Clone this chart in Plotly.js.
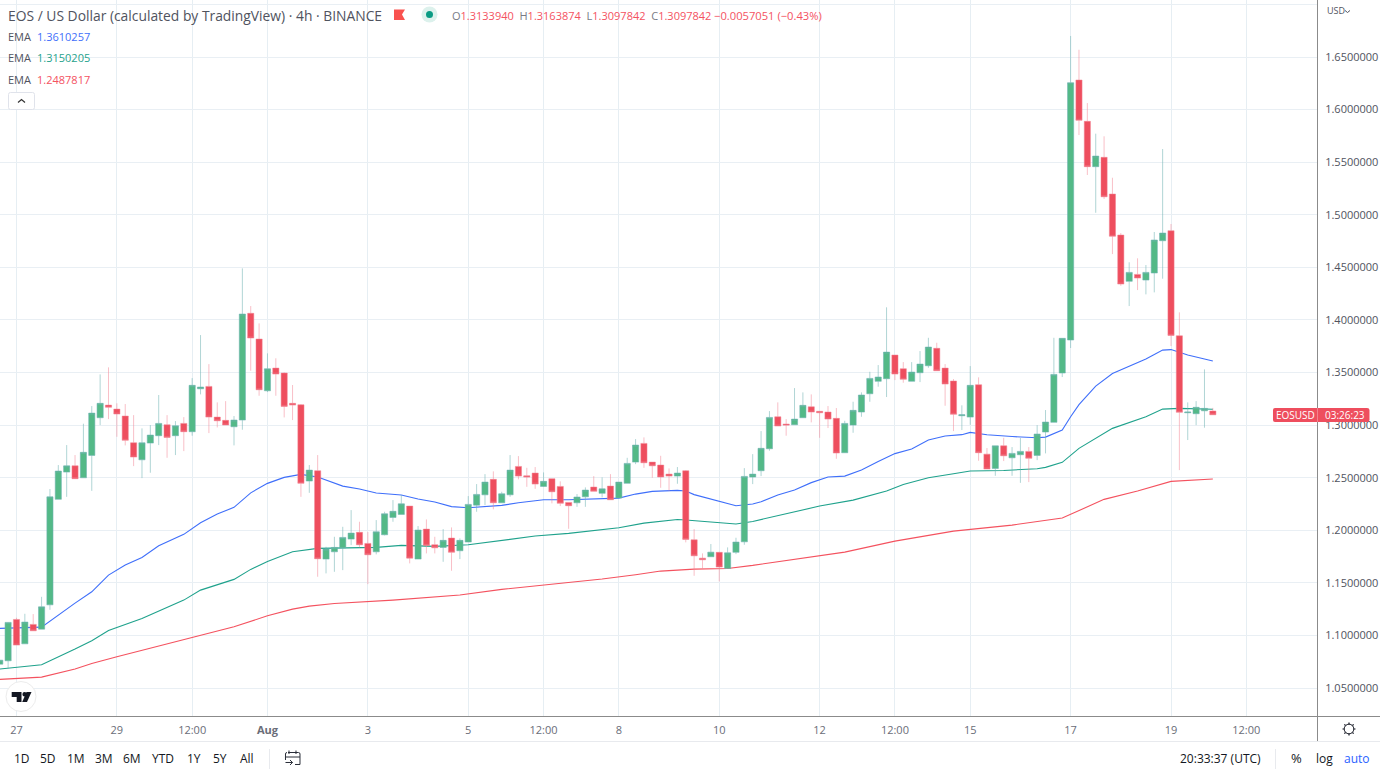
<!DOCTYPE html>
<html>
<head>
<meta charset="utf-8">
<script src="https://cdn.plot.ly/plotly-3.0.1.min.js"></script>
<style>
html, body { margin: 0; padding: 0; background: #fff; }
#chart { width: 1380px; height: 776px; }
</style>
</head>
<body>
<div id="chart"></div>
<script>
// ---------------- candles, 4h, first one is the cut off candle at the left edge ----------------//
var opens = [1.0727,1.0759,1.1152,1.0920,1.1105,1.1060,1.1291,1.2294,1.2553,1.2613,1.2499,1.2712,1.3070,1.3190,1.3152,1.3086,1.2832,1.2670,1.2829,1.2899,1.3003,1.2899,1.3016,1.2937,1.3345,1.3368,1.3076,1.3045,1.2984,1.3048,1.4063,1.3818,1.3326,1.3542,1.3495,1.3207,1.3193,1.2468,1.2566,1.1726,1.1795,1.1833,1.1916,1.1980,1.1875,1.1795,1.1957,1.2122,1.2151,1.2230,1.1726,1.2011,1.1862,1.1837,1.1926,1.1805,1.1888,1.2239,1.2337,1.2484,1.2261,1.2337,1.2607,1.2518,1.2544,1.2417,1.2490,1.2417,1.2265,1.2261,1.2318,1.2411,1.2351,1.2420,1.2306,1.2446,1.2648,1.2826,1.2648,1.2620,1.2534,1.2515,1.2566,1.1909,1.1735,1.1748,1.1790,1.1637,1.1790,1.1890,1.2506,1.2566,1.2775,1.3079,1.3010,1.3003,1.3070,1.3174,1.3131,1.3124,1.3064,1.2737,1.3000,1.3124,1.3298,1.3416,1.3441,1.3666,1.3536,1.3416,1.3498,1.3564,1.3730,1.3542,1.3419,1.3089,1.3076,1.3384,1.2724,1.2588,1.2803,1.2689,1.2718,1.2750,1.2712,1.2934,1.3026,1.3495,1.3809,1.6281,1.5888,1.5457,1.5546,1.5197,1.4807,1.4367,1.4433,1.4379,1.4446,1.4753,1.4848,1.3849,1.3117,1.3108,1.3136,1.3133940];
var highs = [1.0765,1.1127,1.1168,1.1206,1.1203,1.1367,1.2392,1.2620,1.2810,1.2715,1.3013,1.3181,1.3482,1.3549,1.3207,1.3200,1.3095,1.2969,1.3000,1.3286,1.3095,1.3038,1.3076,1.3447,1.3856,1.3580,1.3216,1.3228,1.3086,1.4490,1.4132,1.3967,1.3682,1.3635,1.3501,1.3381,1.3200,1.2620,1.2715,1.1843,1.1938,1.2033,1.2192,1.2081,1.1983,1.2097,1.2176,1.2287,1.2335,1.2230,1.2040,1.2103,1.1938,1.2011,1.2027,1.1923,1.2325,1.2439,1.2534,1.2560,1.2366,1.2715,1.2705,1.2594,1.2601,1.2550,1.2490,1.2465,1.2265,1.2344,1.2408,1.2515,1.2503,1.2534,1.2458,1.2689,1.2867,1.2883,1.2648,1.2708,1.2588,1.2601,1.2572,1.2011,1.1780,1.1869,1.1795,1.1837,1.1929,1.2591,1.2724,1.2943,1.3133,1.3216,1.3057,1.3352,1.3311,1.3292,1.3131,1.3181,1.3162,1.3041,1.3222,1.3311,1.3507,1.3571,1.4120,1.3666,1.3599,1.3599,1.3704,1.3830,1.3783,1.3580,1.3438,1.3188,1.3561,1.3454,1.2782,1.2803,1.2879,1.2791,1.2877,1.2791,1.3000,1.3143,1.3830,1.3825,1.6700,1.6569,1.6062,1.5771,1.5746,1.5352,1.4826,1.4548,1.4586,1.4522,1.4836,1.5625,1.4912,1.4072,1.3216,1.3228,1.3530,1.3163874];
var lows = [1.0727,1.0689,1.0908,1.0920,1.1044,1.1060,1.1244,1.2294,1.2318,1.2490,1.2499,1.2375,1.3000,1.3057,1.2889,1.2807,1.2610,1.2496,1.2547,1.2810,1.2689,1.2715,1.2753,1.2899,1.3292,1.2924,1.2978,1.3000,1.2807,1.2956,1.3517,1.3279,1.3314,1.3279,1.3073,1.3048,1.2318,1.2356,1.1558,1.1590,1.1605,1.1621,1.1859,1.1837,1.1488,1.1771,1.1951,1.2081,1.2151,1.1685,1.1726,1.1780,1.1780,1.1700,1.1615,1.1726,1.1888,1.2176,1.2239,1.2199,1.2261,1.2318,1.2484,1.2413,1.2394,1.2413,1.2256,1.2230,1.2014,1.2223,1.2223,1.2370,1.2313,1.2290,1.2306,1.2446,1.2629,1.2594,1.2499,1.2404,1.2375,1.2442,1.1885,1.1567,1.1637,1.1748,1.1514,1.1637,1.1773,1.1862,1.2439,1.2515,1.2756,1.2991,1.2899,1.3003,1.3070,1.3026,1.2879,1.2972,1.2680,1.2737,1.2927,1.3079,1.3222,1.3365,1.3267,1.3428,1.3403,1.3416,1.3409,1.3545,1.3517,1.3184,1.2943,1.2953,1.3003,1.2661,1.2582,1.2518,1.2658,1.2518,1.2451,1.2458,1.2667,1.2731,1.3026,1.3457,1.3733,1.5758,1.5378,1.5019,1.5150,1.4626,1.4325,1.4132,1.4284,1.4243,1.4262,1.4392,1.3752,1.2572,1.2858,1.3000,1.2975,1.3097842];
var closes = [1.0765,1.1124,1.0908,1.1127,1.1044,1.1272,1.2318,1.2563,1.2613,1.2490,1.2741,1.3114,1.3207,1.3169,1.3105,1.2855,1.2696,1.2832,1.2905,1.3016,1.2883,1.2994,1.2937,1.3378,1.3362,1.3076,1.3041,1.3000,1.3048,1.4056,1.3828,1.3336,1.3536,1.3485,1.3178,1.3190,1.2446,1.2572,1.1729,1.1821,1.1837,1.1932,1.1973,1.1862,1.1767,1.1986,1.2157,1.2180,1.2252,1.1735,1.2002,1.1856,1.1833,1.1904,1.1790,1.1904,1.2246,1.2341,1.2458,1.2261,1.2347,1.2572,1.2515,1.2506,1.2439,1.2465,1.2366,1.2256,1.2233,1.2316,1.2382,1.2370,1.2394,1.2290,1.2458,1.2636,1.2810,1.2642,1.2613,1.2506,1.2515,1.2544,1.1913,1.1757,1.1719,1.1792,1.1650,1.1786,1.1888,1.2512,1.2534,1.2779,1.3073,1.2991,1.3000,1.3057,1.3188,1.3124,1.3117,1.3057,1.2734,1.3016,1.3140,1.3286,1.3444,1.3457,1.3694,1.3485,1.3435,1.3504,1.3580,1.3742,1.3517,1.3390,1.3102,1.3098,1.3378,1.2737,1.2582,1.2803,1.2708,1.2731,1.2750,1.2684,1.2915,1.3029,1.3482,1.3825,1.6256,1.5898,1.5457,1.5558,1.5171,1.4795,1.4341,1.4452,1.4398,1.4452,1.4760,1.4826,1.3853,1.3121,1.3124,1.3169,1.3159,1.3097842];

// ---------------- moving averages, read at the bends, x is the candle number ----------------//
var emaBlueX = [-1,4,8,10,12,14,16,18,21,23,25,27,29,31,33,35,37,40,42,44,47,49,51,53,55,59,61,64,67,71,73,75,77,80,81,82,84,86,87,89,90,92,94,96,98,100,102,104,106,108,110,112,114,115,117,120,123,124,126,127,128,130,132,136,138,139,141,144];
var emaBlue = [1.1067,1.1079,1.1307,1.1415,1.1574,1.1669,1.1742,1.1852,1.1961,1.2071,1.2154,1.2218,1.2356,1.2446,1.2503,1.2531,1.2506,1.2420,1.2392,1.2354,1.2335,1.2297,1.2268,1.2225,1.2214,1.2237,1.2261,1.2290,1.2290,1.2300,1.2306,1.2344,1.2370,1.2379,1.2373,1.2339,1.2297,1.2258,1.2233,1.2249,1.2271,1.2335,1.2382,1.2453,1.2506,1.2515,1.2572,1.2653,1.2729,1.2772,1.2858,1.2896,1.2909,1.2931,1.2908,1.2891,1.2879,1.2886,1.2953,1.3079,1.3195,1.3371,1.3490,1.3628,1.3713,1.3718,1.3666,1.3610257];

var emaGreenX = [-1,4,8,10,12,16,21,23,27,29,31,34,37,41,44,47,51,55,59,63,67,71,73,76,80,81,85,87,89,93,97,101,105,107,110,113,115,119,123,124,126,128,131,132,136,138,140,144];
var emaGreen = [1.0680,1.0721,1.0870,1.0949,1.1046,1.1162,1.1336,1.1431,1.1533,1.1628,1.1704,1.1795,1.1828,1.1831,1.1837,1.1856,1.1847,1.1862,1.1900,1.1945,1.1970,1.2004,1.2024,1.2068,1.2103,1.2097,1.2068,1.2059,1.2084,1.2157,1.2230,1.2287,1.2373,1.2436,1.2499,1.2537,1.2563,1.2569,1.2585,1.2598,1.2646,1.2779,1.2921,1.2969,1.3079,1.3152,1.3159,1.3150205];

var emaRedX = [-1,4,8,10,13,16,21,27,31,34,36,39,46,54,59,64,71,75,78,82,86,89,93,100,106,113,120,126,131,135,139,144];
var emaRed = [1.0582,1.0604,1.0680,1.0734,1.0797,1.0858,1.0956,1.1082,1.1187,1.1250,1.1279,1.1303,1.1336,1.1384,1.1438,1.1479,1.1536,1.1577,1.1612,1.1631,1.1637,1.1666,1.1710,1.1792,1.1897,1.1992,1.2049,1.2116,1.2294,1.2373,1.2465,1.2487817];

// ---------------- axis labels ----------------//
var priceTicks = [1.05,1.10,1.15,1.20,1.25,1.30,1.35,1.40,1.45,1.50,1.55,1.60,1.65,1.70];
var timeTicks = [1,13,22,31,43,55,64,73,85,97,106,115,127,139,148];
var timeLabels = ['27','29','12:00','<b>Aug</b>','3','5','12:00','8','10','12','12:00','15','17','19','12:00'];
var rangeButtons = ['1D','5D','1M','3M','6M','YTD','1Y','5Y','All'];
var rangeButtonX = [22,48,76,104,132,163,194,220,247];
var emaValues = ['1.3610257','1.3150205','1.2487817'];

var W = 1380, H = 776;
var FONT = '"Open Sans", sans-serif';
var UP = '#53b987', DOWN = '#ee4e5e';
var BLUE = '#3f6ffa', TEAL = '#1fa28c', RED = '#f4525f';
var TEXT = '#50535e';

// pixel helpers, margins are 0 so paper coords are page coords
function px(x) { return x / W; }
function py(y) { return 1 - y / H; }
function toPaper(path) {
    return path.replace(/(-?[\d.]+) (-?[\d.]+)/g, function (m, x, y) {
        return px(+x).toFixed(5) + ' ' + py(+y).toFixed(5);
    });
}
function iconPath(path, fill, stroke, width) {
    return {
        type: 'path', xref: 'paper', yref: 'paper', path: toPaper(path),
        fillcolor: fill || 'rgba(0,0,0,0)',
        line: { color: stroke || 'rgba(0,0,0,0)', width: width || 0 }
    };
}
function hLine(y, x0, x1, color) {
    return { type: 'line', xref: 'paper', yref: 'paper', x0: px(x0), x1: px(x1), y0: py(y), y1: py(y), line: { color: color, width: 1 } };
}
function vLine(x, y0, y1, color) {
    return { type: 'line', xref: 'paper', yref: 'paper', x0: px(x), x1: px(x), y0: py(y0), y1: py(y1), line: { color: color, width: 1 } };
}
function circle(x, y, r, fill, stroke) {
    return {
        type: 'circle', xref: 'paper', yref: 'paper', x0: px(x - r), x1: px(x + r), y0: py(y + r), y1: py(y - r),
        fillcolor: fill, line: { color: stroke || 'rgba(0,0,0,0)', width: stroke ? 1 : 0 }
    };
}
function label(text, x, y, size, color, anchor) {
    return {
        text: text, xref: 'paper', yref: 'paper', x: px(x), y: py(y), showarrow: false,
        xanchor: anchor || 'left', yanchor: 'middle', borderpad: 0, borderwidth: 0,
        font: { family: FONT, size: size, color: color }
    };
}

// ---------------- traces ----------------//
var candleX = opens.map(function (v, i) { return i - 1; });

var traces = [
    { type: 'scatter', mode: 'lines', x: emaRedX, y: emaRed, line: { color: RED, width: 1.1 }, xaxis: 'x', yaxis: 'y' },
    { type: 'scatter', mode: 'lines', x: emaGreenX, y: emaGreen, line: { color: TEAL, width: 1.1 }, xaxis: 'x', yaxis: 'y' },
    { type: 'scatter', mode: 'lines', x: emaBlueX, y: emaBlue, line: { color: BLUE, width: 1.1 }, xaxis: 'x', yaxis: 'y' },
    {
        type: 'candlestick', x: candleX, open: opens, high: highs, low: lows, close: closes,
        xaxis: 'x2', yaxis: 'y2',
        increasing: { line: { color: 'rgba(112,178,178,0.55)', width: 1 }, fillcolor: UP },
        decreasing: { line: { color: 'rgba(244,130,146,0.5)', width: 1 }, fillcolor: DOWN }
    }
];

// ---------------- overlay text and icons ----------------//
var annotations = [
    label('EOS / US Dollar (calculated by TradingView) · 4h · BINANCE', 8, 15, 13.85, TEXT),
    label('<span style="color:#787b86">O</span>1.3133940 <span style="color:#787b86"> H</span>1.3163874 <span style="color:#787b86"> L</span>1.3097842 <span style="color:#787b86"> C</span>1.3097842', 452, 15, 11, RED),
    label('−0.0057051 (−0.43%)', 714, 15, 11.2, RED),
    label('EMA', 8, 36, 11, TEXT), label(emaValues[0], 37, 36, 11, BLUE),
    label('EMA', 8, 58, 11, TEXT), label(emaValues[1], 37, 58, 11, TEAL),
    label('EMA', 8, 80, 11, TEXT), label(emaValues[2], 37, 80, 11, RED),
    label('USD', 1327, 11, 9, TEXT),
    label('EOSUSD', 1295, 415, 10, '#ffffff', 'center'),
    label('03:26:23', 1345, 415, 10, '#ffffff', 'center'),
    label('20:33:37 (UTC)', 1261, 758, 12, '#131722', 'right'),
    label('%', 1296, 758, 13, '#131722', 'center'),
    label('log', 1324, 758, 12, '#131722', 'center'),
    label('auto', 1357, 758, 12, '#2962ff', 'center')
];
rangeButtons.forEach(function (name, i) {
    annotations.push(label(name, rangeButtonX[i], 758, 12, '#131722', 'center'));
});

var shapes = [
    vLine(1317.5, 0, 741, '#8b8b8b'),
    hLine(716.5, 0, 1380, '#8b8b8b'),
    hLine(741.5, 0, 1380, '#e8eaee'),
    vLine(269.5, 749, 769, '#e8eaee'),
    vLine(1275.5, 749, 769, '#e8eaee'),
    // flag and market status dot
    iconPath('M394 9.5 L405 9.5 L402 14.5 L405 20 L394 20 Z', '#f9524f'),
    circle(429.5, 14.5, 8, '#dcf1ec'),
    circle(429.5, 14.5, 3.5, '#0a9b83'),
    // collapse button
    iconPath('M10.5 92.5 L32.5 92.5 Q34.5 92.5 34.5 94.5 L34.5 107.5 Q34.5 109.5 32.5 109.5 L10.5 109.5 Q8.5 109.5 8.5 107.5 L8.5 94.5 Q8.5 92.5 10.5 92.5 Z', '#ffffff', '#e0e3eb', 1),
    iconPath('M18 102.5 L21.5 99.5 L25 102.5', null, '#333333', 1.2),
    // TV logo
    circle(21, 696.5, 15, '#ffffff', '#ececec'),
    iconPath('M11.7 692 L21.5 692 L21.5 702 L16.7 702 L16.7 697 L11.7 697 Z', '#131722'),
    circle(24.6, 694.2, 2.2, '#131722'),
    iconPath('M26.5 692 L31.5 692 L27 702 L22.2 702 Z', '#131722'),
    // USD chevron
    iconPath('M1345 10.5 L1347.5 12.5 L1350 10.5', null, '#50535e', 1),
    // calendar
    iconPath('M288 752.5 L298.5 752.5 Q300 752.5 300 754 L300 764.5 L295 764.5 M285.5 760 L285.5 754 Q285.5 752.5 287 752.5 M285 757 L300 757 M289 750.5 L289 754 M296 750.5 L296 754 M285.5 762.5 L292.5 762.5 M290 760 L292.5 762.5 L290 765', null, '#2a2e39', 1),
    // gear
    circle(1349, 729, 4.8, '#ffffff', '#131722'),
    iconPath('M1349 722.5 L1349 724 M1349 734 L1349 735.5 M1342.5 729 L1344 729 M1354 729 L1355.5 729 M1344.4 724.4 L1345.5 725.5 M1352.5 732.5 L1353.6 733.6 M1344.4 733.6 L1345.5 732.5 M1352.5 725.5 L1353.6 724.4', null, '#131722', 1.2),
    // price tag
    iconPath('M1275 408 L1367 408 Q1369.5 408 1369.5 410 L1369.5 420 Q1369.5 422 1367 422 L1275 422 Q1273 422 1273 420 L1273 410 Q1273 408 1275 408 Z', '#ee4e5e'),
    vLine(1317.5, 408, 422, 'rgba(255,255,255,0.3)')
];

// ---------------- layout ----------------//
var xRange = [-0.97, 156.45];
var yRange = [1.0234, 1.7042];
var priceLabels = priceTicks.map(function (v) { return v === 1.70 ? '' : v.toFixed(7); });

var layout = {
    width: W, height: H,
    margin: { l: 0, r: 0, t: 0, b: 0, pad: 0 },
    paper_bgcolor: '#ffffff', plot_bgcolor: '#ffffff',
    showlegend: false, hovermode: false, dragmode: false,
    boxmode: 'overlay', boxgap: 0.08, boxgroupgap: 0.2,
    xaxis: {
        domain: [0, px(1317)], range: xRange, rangeslider: { visible: false },
        tickmode: 'array', tickvals: timeTicks, ticktext: timeLabels,
        tickangle: 0, ticks: 'outside', ticklen: 4, tickcolor: 'rgba(0,0,0,0)',
        tickfont: { family: FONT, size: 11, color: '#6a6d78' },
        showgrid: true, gridcolor: '#e6eef3', gridwidth: 1, zeroline: false, showline: false, automargin: false
    },
    yaxis: {
        domain: [py(716), 1], range: yRange, side: 'right',
        tickmode: 'array', tickvals: priceTicks, ticktext: priceLabels,
        ticks: 'outside', ticklen: 5, tickcolor: 'rgba(0,0,0,0)',
        tickfont: { family: FONT, size: 11, color: TEXT },
        showgrid: true, gridcolor: '#e9eff4', gridwidth: 1, zeroline: false, showline: false, automargin: false
    },
    xaxis2: { overlaying: 'x', domain: [0, px(1317)], range: xRange, rangeslider: { visible: false }, visible: false, anchor: 'y2' },
    yaxis2: { overlaying: 'y', domain: [py(716), 1], range: yRange, visible: false, anchor: 'x2' },
    annotations: annotations,
    shapes: shapes
};

Plotly.newPlot('chart', traces, layout, { displayModeBar: false, staticPlot: true });
</script>
</body>
</html>
